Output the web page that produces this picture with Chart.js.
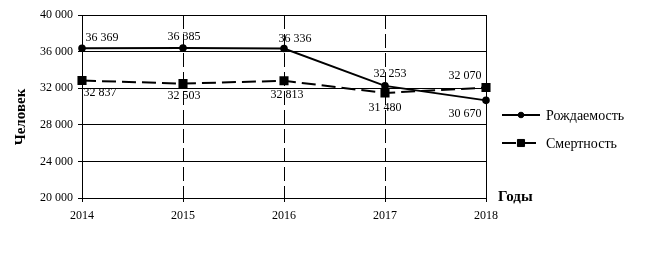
<!DOCTYPE html>
<html lang="ru">
<head>
<meta charset="utf-8">
<title>Рождаемость и смертность</title>
<script src="https://cdn.jsdelivr.net/npm/chart.js@4/dist/chart.umd.min.js"></script>
<style>
  html, body { margin: 0; padding: 0; background: #fff; }
  canvas { display: block; }
</style>
</head>
<body>
<canvas id="chart" width="646" height="277"></canvas>
<script>
// Годы наблюдения
const years = ['2014', '2015', '2016', '2017', '2018'];
// Число родившихся, человек
const births = [36369, 36385, 36336, 32253, 30670];
// Число умерших, человек
const deaths = [32837, 32503, 32813, 31480, 32070];
// Деления оси значений
const yTicks = [20000, 24000, 28000, 32000, 36000, 40000];

const seriesNames = ['Рождаемость', 'Смертность'];
const axisTitles = { x: 'Годы', y: 'Человек' };

// Смещения подписей значений относительно точек [dx, dy]
const birthLabelShift = [[20, -10], [1, -11], [11, -10], [5, -12], [-21, 13]];
const deathLabelShift = [[18, 12], [1, 12], [3, 14], [0, 15], [-21, -12]];

const SERIF = "'Liberation Serif', 'Times New Roman', serif";
Chart.defaults.font.family = SERIF;
Chart.defaults.font.size = 12;
Chart.defaults.color = '#000';

const fmt = v => String(Math.round(v)).replace(/\B(?=(\d{3})+(?!\d))/g, ' ');

// Подписи значений у точек, легенда справа и заголовки осей
const decorations = {
  id: 'decorations',
  afterDatasetsDraw(chart) {
    const ctx = chart.ctx;
    const shifts = [birthLabelShift, deathLabelShift];
    ctx.save();
    ctx.font = '12px ' + SERIF;
    ctx.fillStyle = '#000';
    ctx.textAlign = 'center';
    ctx.textBaseline = 'middle';
    chart.data.datasets.forEach((ds, di) => {
      const meta = chart.getDatasetMeta(di);
      meta.data.forEach((pt, i) => {
        const [dx, dy] = shifts[di][i];
        ctx.fillText(fmt(ds.data[i]), pt.x + dx, pt.y + dy);
      });
    });
    ctx.restore();
  },
  afterDraw(chart) {
    const ctx = chart.ctx;
    const area = chart.chartArea;
    // Легенда
    const lx0 = area.right + 16, lx1 = area.right + 54, tx = area.right + 60;
    const rows = [area.top + 100, area.top + 128];
    chart.data.datasets.forEach((ds, di) => {
      const y = rows[di];
      ctx.save();
      ctx.strokeStyle = ds.borderColor;
      ctx.lineWidth = ds.borderWidth;
      ctx.setLineDash(ds.borderDash || []);
      ctx.beginPath();
      ctx.moveTo(lx0, y);
      ctx.lineTo(lx1, y);
      ctx.stroke();
      ctx.setLineDash([]);
      ctx.fillStyle = ds.pointBackgroundColor;
      ctx.strokeStyle = ds.pointBorderColor;
      ctx.lineWidth = 1;
      Chart.helpers.drawPoint(ctx, {
        pointStyle: ds.pointStyle, radius: ds.pointRadius, borderWidth: 1, rotation: 0
      }, (lx0 + lx1) / 2, y);
      ctx.fillStyle = '#000';
      ctx.font = '14px ' + SERIF;
      ctx.textAlign = 'left';
      ctx.textBaseline = 'middle';
      ctx.fillText(ds.label, tx, y + 1);
      ctx.restore();
    });
    // Заголовки осей
    ctx.save();
    ctx.fillStyle = '#000';
    ctx.font = 'bold 15px ' + SERIF;
    ctx.textAlign = 'left';
    ctx.textBaseline = 'middle';
    ctx.fillText(axisTitles.x, area.right + 12, area.bottom - 1);
    ctx.translate(21, area.top + 102);
    ctx.rotate(-Math.PI / 2);
    ctx.textAlign = 'center';
    ctx.fillText(axisTitles.y, 0, 0);
    ctx.restore();
  }
};

new Chart(document.getElementById('chart'), {
  type: 'line',
  data: {
    labels: years,
    datasets: [
      {
        label: seriesNames[0],
        data: births,
        borderColor: '#000',
        borderWidth: 2,
        borderDash: [],
        pointStyle: 'circle',
        pointRadius: 2.8,
        pointBackgroundColor: '#000',
        pointBorderColor: '#000',
        tension: 0,
        clip: 12
      },
      {
        label: seriesNames[1],
        data: deaths,
        borderColor: '#000',
        borderWidth: 2,
        borderDash: [14, 6],
        pointStyle: 'rect',
        pointRadius: 5,
        pointBackgroundColor: '#000',
        pointBorderColor: '#000',
        tension: 0,
        clip: 12
      }
    ]
  },
  options: {
    responsive: false,
    animation: false,
    layout: { padding: { top: 15, right: 160, bottom: 0, left: 0 } },
    plugins: {
      legend: { display: false },
      tooltip: { enabled: false }
    },
    scales: {
      x: {
        type: 'category',
        offset: false,
        grid: {
          color: '#000',
          lineWidth: 1,
          tickLength: 4,
          tickColor: '#000'
        },
        border: {
          display: true,
          color: '#000',
          width: 1,
          dash: c => (c.index === 0 || c.index === years.length - 1) ? [] : [14, 5]
        },
        ticks: {
          padding: 7,
          maxRotation: 0,
          font: { size: 12, family: SERIF },
          color: '#000'
        },
        afterFit: s => { s.height = 79; }
      },
      y: {
        min: yTicks[0],
        max: yTicks[yTicks.length - 1],
        afterBuildTicks: s => { s.ticks = yTicks.map(v => ({ value: v })); },
        grid: {
          color: '#000',
          lineWidth: 1,
          tickLength: 4,
          tickColor: '#000'
        },
        border: { display: true, color: '#000', width: 1 },
        ticks: {
          padding: 5,
          font: { size: 12, family: SERIF },
          color: '#000',
          callback: v => fmt(v)
        },
        afterFit: s => { s.width = 82; }
      }
    }
  },
  plugins: [decorations]
});
</script>
</body>
</html>
